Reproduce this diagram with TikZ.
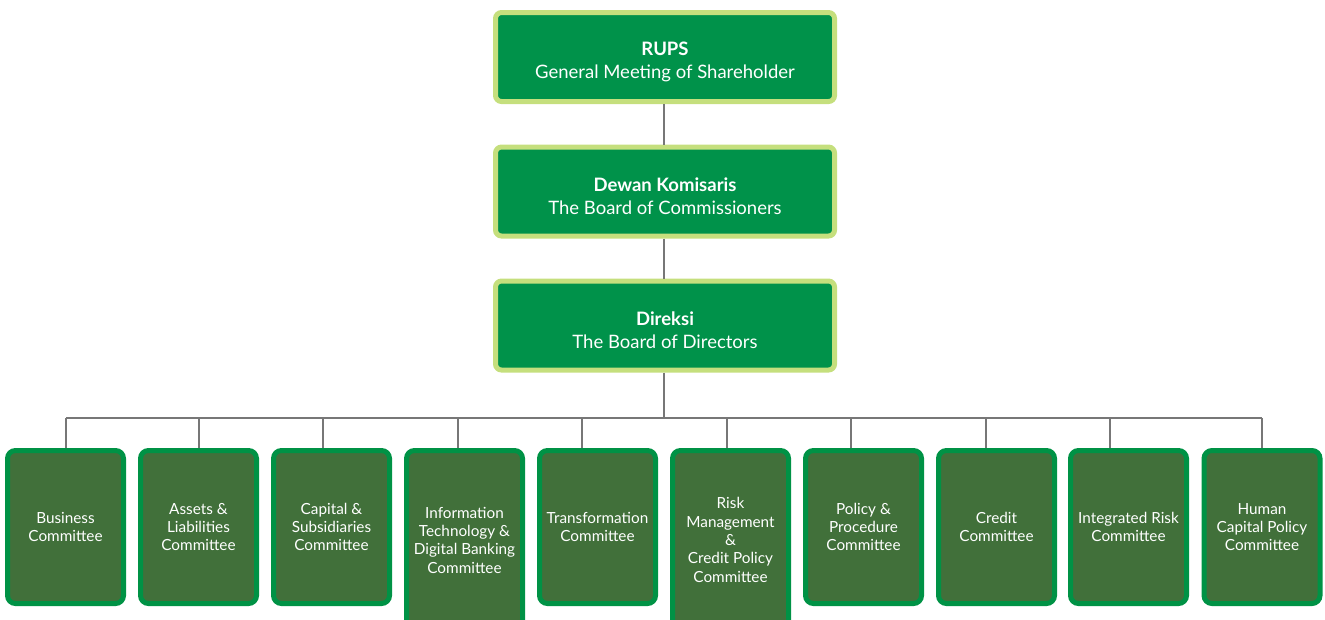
\documentclass[tikz,border=0pt]{standalone}
\usepackage{fontspec}
\setmainfont{Lato}
\definecolor{topfill}{HTML}{00924A}
\definecolor{topborder}{HTML}{C5DF7D}
\definecolor{botfill}{HTML}{41703A}
\definecolor{botborder}{HTML}{009245}
\definecolor{linegray}{HTML}{777777}
\newcommand{\hdstrut}{\rule{0pt}{23pt}}
\begin{document}
\begin{tikzpicture}[x=1pt,y=-1pt,
  topbox/.style={draw=topborder, fill=topfill, line width=5pt, rounded corners=6pt,
    minimum width=339pt, minimum height=89pt, inner sep=0pt, text=white,
    align=center, font=\fontsize{18.5}{22.5}\selectfont},
  combox/.style={draw=botborder, fill=botfill, line width=5pt, rounded corners=8pt,
    minimum width=116pt, minimum height=153pt, inner sep=0pt, text=white,
    align=center, font=\fontsize{15.3}{18.3}\selectfont},
  tallbox/.style={combox, minimum height=179pt},
  conn/.style={draw=linegray, line width=1.3pt}]
\useasboundingbox (0,0) rectangle (1325,619);
\clip (0,0) rectangle (1325,619);
\node[topbox] (rups) at (665,57) {\hdstrut\textbf{RUPS}\\General Meeting of Shareholder};
\node[topbox] (boc) at (665,191.5) {\hdstrut\textbf{Dewan Komisaris}\\The Board of Commissioners};
\node[topbox] (bod) at (665,325.5) {\hdstrut\textbf{Direksi}\\The Board of Directors};
\coordinate (bus) at (664,418);
\coordinate (d1) at (66,418);
\coordinate (d2) at (199,418);
\coordinate (d3) at (323,418);
\coordinate (d4) at (458,418);
\coordinate (d5) at (582,418);
\coordinate (d6) at (727,418);
\coordinate (d7) at (851,418);
\coordinate (d8) at (986,418);
\coordinate (d9) at (1110,418);
\coordinate (d10) at (1262,418);
\node[combox] (c1) at (65.5,527) {Business\\Committee};
\node[combox] (c2) at (198.5,527) {Assets \&\\Liabilities\\Committee};
\node[combox] (c3) at (331.5,527) {Capital \&\\Subsidiaries\\Committee};
\node[tallbox] (c4) at (464.5,540) {Information\\Technology \&\\Digital Banking\\Committee};
\node[combox] (c5) at (597.5,527) {Transformation\\Committee};
\node[tallbox] (c6) at (730.5,540) {Risk\\Management\\\&\\Credit Policy\\Committee};
\node[combox] (c7) at (863.5,527) {Policy \&\\Procedure\\Committee};
\node[combox] (c8) at (996.5,527) {Credit\\Committee};
\node[combox] (c9) at (1128.5,527) {Integrated Risk\\Committee};
\node[combox] (c10) at (1262,527) {Human\\Capital Policy\\Committee};
\draw[conn] (664,0 |- rups.south) -- (664,0 |- boc.north);
\draw[conn] (664,0 |- boc.south) -- (664,0 |- bod.north);
\draw[conn] (664,0 |- bod.south) -- (bus);
\draw[conn] (d1) -- (d10);
\foreach \i in {1,...,10} {
  \draw[conn] (d\i) -- (d\i |- c\i.north);
}
\end{tikzpicture}
\end{document}
